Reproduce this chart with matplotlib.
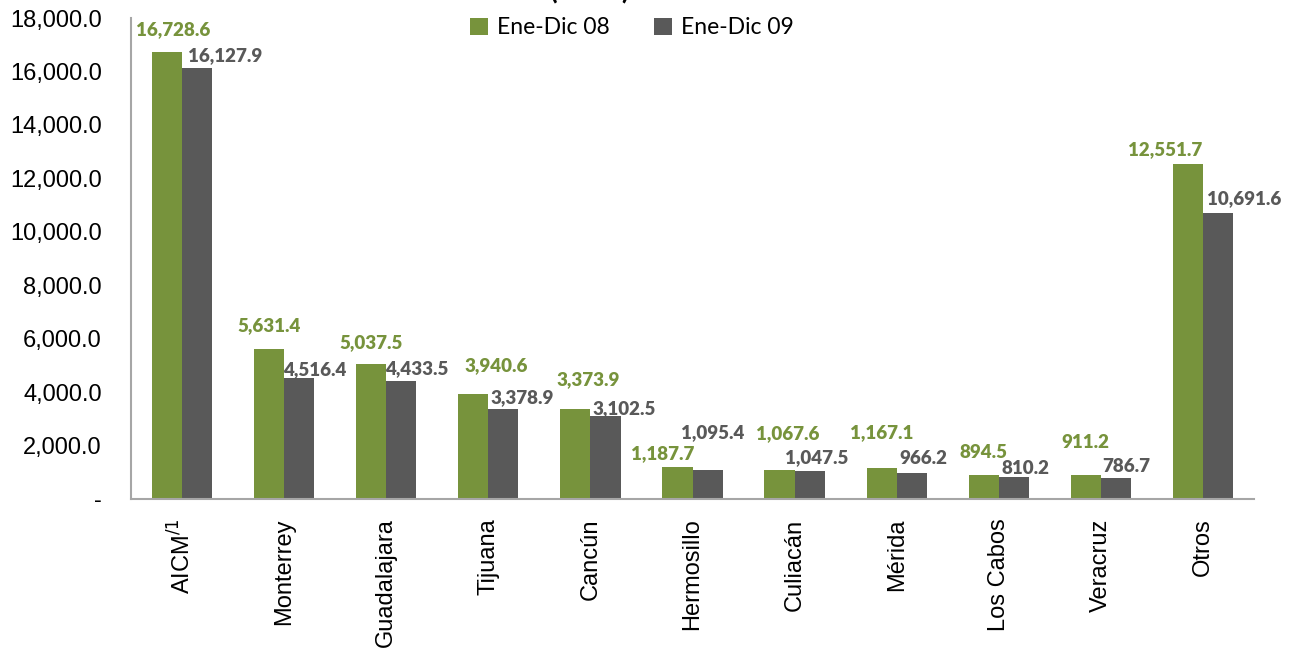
import numpy as np
import matplotlib
matplotlib.use("Agg")
import matplotlib.pyplot as plt
import matplotlib.transforms as mtransforms
from matplotlib.ticker import FuncFormatter

# ============== data ==============
airports = ["AICM$^{/1}$", "Monterrey", "Guadalajara", "Tijuana", "Cancún",
            "Hermosillo", "Culiacán", "Mérida", "Los Cabos", "Veracruz", "Otros"]
ene_dic_08 = [16728.6, 5631.4, 5037.5, 3940.6, 3373.9, 1187.7,
              1067.6, 1167.1, 894.5, 911.2, 12551.7]
ene_dic_09 = [16127.9, 4516.4, 4433.5, 3378.9, 3102.5, 1095.4,
              1047.5, 966.2, 810.2, 786.7, 10691.6]
# hand-placed excel labels: pixel nudges (x, lift above bar top)
dx_08 = [6, 0, 0, 23, 13, -15, 8, 0, 0, 0, -23]
lift_08 = [22, 23, 22, 28, 29, 14, 37, 35, 23, 32, 14]
dx_09 = [6, -1, -1, 2, 2, -11, -10, 3, 3, 1, 4]
lift_09 = [12, 9, 12, 11, 8, 37, 13, 15, 9, 11, 15]
# ==================================

green = "#77933C"
grey = "#595959"
axis_col = "#A6A6A6"

fig = plt.figure(figsize=(12.94, 6.55), dpi=100)
ax = fig.add_axes([131/1294, 1 - 499/655, (1254 - 131)/1294, (499 - 18)/655])

x = np.arange(len(airports))
w = 0.295
ax.bar(x - w/2, ene_dic_08, w, color=green, label="Ene-Dic 08")
ax.bar(x + w/2, ene_dic_09, w, color=grey, label="Ene-Dic 09")

lab_font = dict(family="Lato", weight="heavy", size=13.5)
for i in range(len(airports)):
    ax.annotate(f"{ene_dic_08[i]:,.1f}", (x[i] - w/2, ene_dic_08[i]),
                xytext=(dx_08[i], lift_08[i]), textcoords="offset pixels",
                ha="center", va="center", color=green, **lab_font)
    ax.annotate(f"{ene_dic_09[i]:,.1f}", (x[i], ene_dic_09[i]),
                xytext=(dx_09[i], lift_09[i]), textcoords="offset pixels",
                ha="left", va="center", color=grey, **lab_font)

ax.set_xlim(-0.5, len(airports) - 0.5)
ax.set_ylim(0, 18000)
ax.set_yticks(np.arange(0, 18001, 2000))
ax.yaxis.set_major_formatter(FuncFormatter(lambda v, p: "-" if v == 0 else f"{v:,.1f}"))
ax.set_xticks(x)
ax.set_xticklabels(airports, rotation=90, va="top", ha="center")

for lbl in ax.get_xticklabels() + ax.get_yticklabels():
    lbl.set_family("Liberation Sans")
    lbl.set_fontsize(17)
shift = mtransforms.ScaledTranslation(-10/100, 0, fig.dpi_scale_trans)
for lbl in ax.get_xticklabels():
    lbl.set_transform(lbl.get_transform() + shift)

ax.tick_params(axis="both", length=0)
ax.tick_params(axis="x", pad=14)
ax.tick_params(axis="y", pad=21)
for s in ["top", "right"]:
    ax.spines[s].set_visible(False)
for s in ["left", "bottom"]:
    ax.spines[s].set_color(axis_col)
    ax.spines[s].set_linewidth(1.5)

# title is clipped at the top of the original image
fig.text(590/1294, 1 + 1/655, "(miles)", ha="center", va="baseline",
         fontsize=20, fontweight="bold", family="Lato")

fig.legend(loc="center", bbox_to_anchor=(632/1294, 1 - 28/655), ncol=2,
           frameon=False, prop=dict(family="Lato", size=16.5),
           handlelength=0.8, handleheight=0.8, handletextpad=0.4, columnspacing=1.9)

fig.savefig("out.png", dpi=100)
